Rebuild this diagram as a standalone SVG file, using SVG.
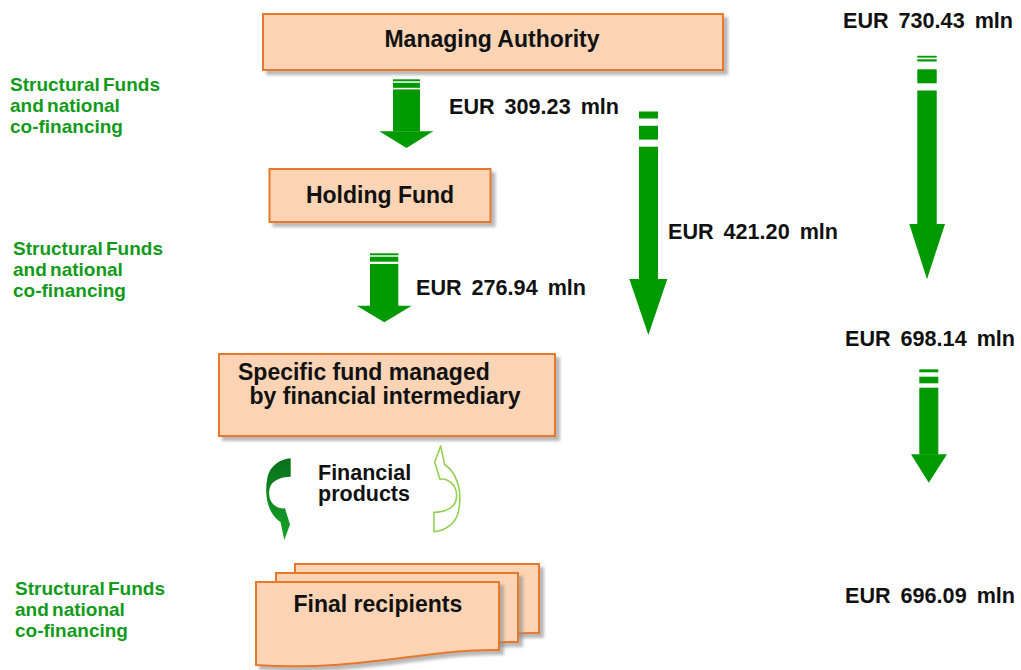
<svg xmlns="http://www.w3.org/2000/svg" width="1021" height="670" viewBox="0 0 1021 670">
<defs>
<filter id="sh" x="-10%" y="-10%" width="130%" height="140%">
<feDropShadow dx="4" dy="4" stdDeviation="1.6" flood-color="#8a8a8a" flood-opacity="0.6"/>
</filter>
<linearGradient id="dg" x1="0" y1="0" x2="0" y2="1">
<stop offset="0" stop-color="#087019"/>
<stop offset="0.5" stop-color="#0e8a22"/>
<stop offset="1" stop-color="#18a22a"/>
</linearGradient>
<path id="curve" d="M290.7,458.3 C280,459 270,466 267.5,477 C265,489 266,502 271,511.5 C274,517 278,520.5 280.5,522 L284.3,540 L290,524.5 L285,508.3 C280,509 274.5,506.5 271.5,502 C268,496 268.5,488 272,483.5 C276,479 283,477 290.7,476.7 Z"/>
</defs>
<style>
.box{fill:#fad4b4;stroke:#e8782a;stroke-width:2;filter:url(#sh)}
.lbl{font-family:"Liberation Sans",Arial,sans-serif;font-weight:bold;font-size:23px;fill:#111}
.fp{font-size:21.5px}
.eur{font-family:"Liberation Sans",Arial,sans-serif;font-weight:bold;font-size:21.6px;fill:#111;word-spacing:4px}
.grn{font-family:"Liberation Sans",Arial,sans-serif;font-weight:bold;font-size:19px;fill:#129a1a;word-spacing:-2px}
.arr{fill:#009a00}
</style>

<rect width="1021" height="670" fill="#fff"/>

<g id="managing-authority">
<rect class="box" x="263" y="14" width="460" height="56"/>
<text class="lbl" x="492" y="47" text-anchor="middle">Managing Authority</text>
</g>

<g id="holding-fund">
<rect class="box" x="269.5" y="169" width="221" height="53"/>
<text class="lbl" x="380" y="203" text-anchor="middle">Holding Fund</text>
</g>

<g id="specific-fund">
<rect class="box" x="219" y="354" width="336" height="82"/>
<text class="lbl" x="238" y="380">Specific fund managed</text>
<text class="lbl" x="249.5" y="404">by financial intermediary</text>
</g>

<g id="final-recipients">
<path class="box" d="M295,564 H539 V633 C470,631 400,655 295,648 Z"/>
<path class="box" d="M276,573 H518 V642 C449,640 379,664 276,657 Z"/>
<path class="box" d="M256,582 H499 V650 C430,648 360,672 256,665 Z"/>
<text class="lbl" x="293.5" y="612">Final recipients</text>
</g>

<g id="labels">
<text class="grn" x="10" y="91">Structural Funds</text>
<text class="grn" x="10" y="112">and national</text>
<text class="grn" x="10" y="133">co-financing</text>
<text class="grn" x="13" y="255">Structural Funds</text>
<text class="grn" x="13" y="276">and national</text>
<text class="grn" x="13" y="297">co-financing</text>
<text class="grn" x="15" y="595">Structural Funds</text>
<text class="grn" x="15" y="616">and national</text>
<text class="grn" x="15" y="637">co-financing</text>

<text class="eur" x="843" y="28">EUR 730.43 mln</text>
<text class="eur" x="449" y="114">EUR 309.23 mln</text>
<text class="eur" x="668" y="239">EUR 421.20 mln</text>
<text class="eur" x="416" y="295">EUR 276.94 mln</text>
<text class="eur" x="845" y="346">EUR 698.14 mln</text>
<text class="eur" x="845" y="603">EUR 696.09 mln</text>

<text class="lbl fp" x="318" y="480">Financial</text>
<text class="lbl fp" x="318" y="501">products</text>
</g>

<g id="connectors">
<!-- MA to Holding Fund -->
<g class="arr">
<rect x="393" y="79.3" width="27" height="2"/>
<rect x="393" y="82.8" width="27" height="5"/>
<rect x="393" y="89.4" width="27" height="42"/>
<polygon points="379.3,131.3 433.3,131.3 406.5,148"/>
</g>
<!-- 421.20 -->
<g class="arr">
<rect x="639" y="111.5" width="19" height="7"/>
<rect x="639" y="125.8" width="19" height="13.8"/>
<rect x="639" y="146.7" width="19" height="133"/>
<polygon points="629.3,279 667.3,279 648.4,335"/>
</g>
<!-- 730.43 -->
<g class="arr">
<rect x="917.3" y="55.8" width="19.4" height="1.8"/>
<rect x="917.3" y="59.3" width="19.4" height="2.2"/>
<rect x="917.3" y="69.3" width="19.4" height="14"/>
<rect x="917.3" y="90.5" width="19.4" height="134"/>
<polygon points="909.3,224 945,224 927,279.3"/>
</g>
<!-- Holding Fund to Specific fund -->
<g class="arr">
<rect x="370" y="253.3" width="28.3" height="2"/>
<rect x="370" y="256.7" width="28.3" height="5"/>
<rect x="370" y="264" width="28.3" height="42"/>
<polygon points="356.7,305.7 411.7,305.7 384.3,322.3"/>
</g>
<!-- 698.14 -->
<g class="arr">
<rect x="919.3" y="369.3" width="19" height="3"/>
<rect x="919.3" y="376.7" width="19" height="6.6"/>
<rect x="919.3" y="387.7" width="19" height="67"/>
<polygon points="911,454.3 947,454.3 928.8,482.7"/>
</g>
<!-- curved arrows -->
<use href="#curve" fill="url(#dg)"/>
<use href="#curve" fill="#fff" stroke="#92d050" stroke-width="1.5" stroke-linejoin="round" transform="translate(739.2,1012.9) scale(-1.05,-1.05)"/>
</g>
</svg>
